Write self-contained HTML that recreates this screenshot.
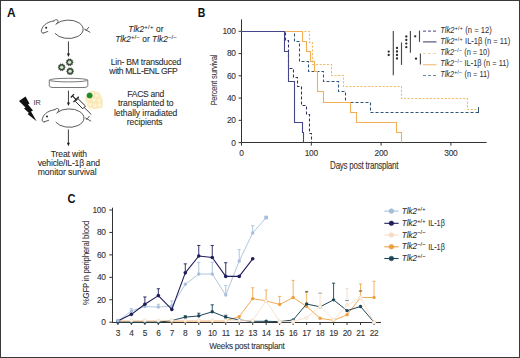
<!DOCTYPE html><html><head><meta charset="utf-8"><style>html,body{margin:0;padding:0;background:#fff;}svg{display:block}</style></head><body>
<svg width="520" height="358" viewBox="0 0 520 358">
<rect x="0" y="0" width="520" height="358" fill="#fff"/>
<rect x="0.5" y="0.5" width="519" height="357" fill="none" stroke="#3a3a3a" stroke-width="1"/>
<g font-family="'Liberation Sans', sans-serif" font-weight="bold" font-size="12.2" fill="#111">
<text x="6.9" y="16.5" textLength="8.6" lengthAdjust="spacingAndGlyphs">A</text>
<text x="197.8" y="16.6" textLength="7.6" lengthAdjust="spacingAndGlyphs">B</text>
<text x="67.6" y="203.2" textLength="8.0" lengthAdjust="spacingAndGlyphs">C</text>
</g>
<g fill="none" stroke="#5a5a5a" stroke-width="1.0" stroke-linecap="round" stroke-linejoin="round"><path d="M56.6,23.6 A14.85,9.25 0 1 1 55.2,33.6"/><path d="M54.2,20.8 C50.5,21.4 46.8,22.8 44.6,24.9 C42.6,26.8 41.4,29.3 41.3,31.3 C41.3,32.6 42.3,33.3 43.6,33.1"/><path d="M43.6,33 L47.8,31.5"/><path d="M53.8,21 C54.8,19.7 56.6,19.1 57.8,20.3 C58.6,21.3 57.4,23.2 55.9,24.4"/><path d="M84.7,29.2 L90,32.2 M88.6,27.4 L85.9,30.6"/></g><circle cx="46.2" cy="27.8" r="1.0" fill="#222"/>
<g transform="translate(0.8,88.8)"><g fill="none" stroke="#5a5a5a" stroke-width="1.0" stroke-linecap="round" stroke-linejoin="round"><path d="M56.6,23.6 A14.85,9.25 0 1 1 55.2,33.6"/><path d="M54.2,20.8 C50.5,21.4 46.8,22.8 44.6,24.9 C42.6,26.8 41.4,29.3 41.3,31.3 C41.3,32.6 42.3,33.3 43.6,33.1"/><path d="M43.6,33 L47.8,31.5"/><path d="M53.8,21 C54.8,19.7 56.6,19.1 57.8,20.3 C58.6,21.3 57.4,23.2 55.9,24.4"/><path d="M84.7,29.2 L90,32.2 M88.6,27.4 L85.9,30.6"/></g><circle cx="46.2" cy="27.8" r="1.0" fill="#222"/></g>
<line x1="68.45" y1="41.4" x2="68.45" y2="54.5" stroke="#2a2a2a" stroke-width="0.9"/><path d="M66.95,53.6 L68.45,57.0 L69.95,53.6 Z" fill="#1a1a1a"/>
<line x1="68.45" y1="90.6" x2="68.45" y2="103.5" stroke="#2a2a2a" stroke-width="0.9"/><path d="M66.95,102.6 L68.45,106.0 L69.95,102.6 Z" fill="#1a1a1a"/>
<line x1="68.4" y1="129.4" x2="68.4" y2="143.7" stroke="#2a2a2a" stroke-width="0.9"/><path d="M66.9,142.79999999999998 L68.4,146.2 L69.9,142.79999999999998 Z" fill="#1a1a1a"/>
<polygon points="73.50,62.30 72.45,63.23 72.76,64.59 71.36,64.73 70.81,66.01 69.60,65.30 68.39,66.01 67.84,64.73 66.44,64.59 66.75,63.23 65.70,62.30 66.75,61.37 66.44,60.01 67.84,59.87 68.39,58.59 69.60,59.30 70.81,58.59 71.36,59.87 72.76,60.01 72.45,61.37" fill="#3c463c" stroke="#3c463c" stroke-width="0.2"/><circle cx="69.6" cy="62.3" r="1.8" fill="#b9d8b5"/><circle cx="69.6" cy="62.3" r="0.9" fill="#e4f1e0"/>
<polygon points="65.60,67.30 64.55,68.23 64.86,69.59 63.46,69.73 62.91,71.01 61.70,70.30 60.49,71.01 59.94,69.73 58.54,69.59 58.85,68.23 57.80,67.30 58.85,66.37 58.54,65.01 59.94,64.87 60.49,63.59 61.70,64.30 62.91,63.59 63.46,64.87 64.86,65.01 64.55,66.37" fill="#3c463c" stroke="#3c463c" stroke-width="0.2"/><circle cx="61.7" cy="67.3" r="1.8" fill="#b9d8b5"/><circle cx="61.7" cy="67.3" r="0.9" fill="#e4f1e0"/>
<polygon points="74.00,71.20 72.95,72.13 73.26,73.49 71.86,73.63 71.31,74.91 70.10,74.20 68.89,74.91 68.34,73.63 66.94,73.49 67.25,72.13 66.20,71.20 67.25,70.27 66.94,68.91 68.34,68.77 68.89,67.49 70.10,68.20 71.31,67.49 71.86,68.77 73.26,68.91 72.95,70.27" fill="#3c463c" stroke="#3c463c" stroke-width="0.2"/><circle cx="70.1" cy="71.2" r="1.8" fill="#b9d8b5"/><circle cx="70.1" cy="71.2" r="0.9" fill="#e4f1e0"/>
<g fill="#fff" stroke="#555" stroke-width="0.8"><path d="M49.3,80.2 L49.3,85.8 Q49.3,87.5 53,87.5 L84,87.5 Q87.8,87.5 87.8,85.8 L87.8,80.2"/><ellipse cx="68.55" cy="80.1" rx="19.25" ry="1.8"/></g>
<polygon points="19,101 25.5,96.5 29.5,103.5 28,104.5 33,110.5 31,111.5 36.6,121.2 27.5,114 29,113 24,108.5 25.5,107.5" fill="#111"/>
<text x="33.4" y="105.4" font-family="'Liberation Sans', sans-serif" font-size="7.3" fill="#333">IR</text>
<circle cx="94" cy="100.5" r="9.5" fill="#fff6dc" opacity="0.8"/>
<g fill="#fde9b0" stroke="#f3cf7c" stroke-width="0.6" opacity="0.6">
<circle cx="92.5" cy="94" r="3.0"/>
<circle cx="97" cy="95.5" r="3.0"/>
<circle cx="89" cy="99" r="3.0"/>
<circle cx="94" cy="100" r="3.0"/>
<circle cx="99" cy="100.5" r="3.0"/>
<circle cx="90.5" cy="104.5" r="3.0"/>
<circle cx="95" cy="105.5" r="3.0"/>
<circle cx="99.5" cy="105" r="3.0"/>
</g>
<g fill="#fff8e6" opacity="0.6">
<circle cx="92.5" cy="94" r="1.4"/>
<circle cx="97" cy="95.5" r="1.4"/>
<circle cx="89" cy="99" r="1.4"/>
<circle cx="94" cy="100" r="1.4"/>
<circle cx="99" cy="100.5" r="1.4"/>
<circle cx="90.5" cy="104.5" r="1.4"/>
<circle cx="95" cy="105.5" r="1.4"/>
<circle cx="99.5" cy="105" r="1.4"/>
</g>
<circle cx="89.6" cy="95.5" r="2.8" fill="#1f8a2a" stroke="#3a9a3a" stroke-width="0.4"/>
<g transform="translate(72.4,95.8) rotate(44.70)" stroke="#1e1e1e" fill="none" stroke-linecap="butt">
<line x1="0" y1="-2.3" x2="0" y2="2.3" stroke-width="1.3"/>
<line x1="0" y1="0" x2="6" y2="0" stroke-width="1.1"/>
<line x1="5.2" y1="-3.8" x2="5.2" y2="3.8" stroke-width="1.3"/>
<rect x="6" y="-1.9" width="10.5" height="3.8" fill="#fff" stroke-width="0.9"/>
<line x1="16.5" y1="0" x2="26.59" y2="0" stroke-width="0.8"/>
</g>
<g font-family="'Liberation Sans', sans-serif" font-size="8.6" fill="#2b2b2b" stroke="#2b2b2b" stroke-width="0.08" text-anchor="middle">
<text x="145.9" y="32" font-size="8.4"><tspan font-style="italic">Tlk2</tspan><tspan dy="-3.4" font-size="6" letter-spacing="0.3">+/+</tspan><tspan dy="3.4"> or</tspan></text>
<text x="146" y="41.9" font-size="8.4"><tspan font-style="italic">Tlk2</tspan><tspan dy="-3.4" font-size="6" letter-spacing="0.1">+/−</tspan><tspan dy="3.4"> or </tspan><tspan font-style="italic">Tlk2</tspan><tspan dy="-3.4" font-size="6" letter-spacing="0.1">−/−</tspan></text>
<text x="146" y="65.2" textLength="70.6">Lin- BM transduced</text>
<text x="143.6" y="73.9" textLength="68.5">with MLL-ENL GFP</text>
<text x="145.8" y="97" textLength="37">FACS and</text>
<text x="145.7" y="106.2" textLength="55.5">transplanted to</text>
<text x="145.7" y="115.5" textLength="63.4">lethally irradiated</text>
<text x="144.7" y="124.7" textLength="35.8">recipients</text>
<text x="68.9" y="156.5" textLength="36.2">Treat with</text>
<text x="68.85" y="166.1" textLength="62.3">vehicle/IL-1β and</text>
<text x="67.15" y="175.2" textLength="58.9">monitor survival</text>
</g>
<g stroke="#333" stroke-width="1" fill="none">
<line x1="241.5" y1="19.4" x2="241.5" y2="143"/>
<line x1="241" y1="142.5" x2="486.6" y2="142.5"/>
<line x1="238.6" y1="142.60" x2="241.5" y2="142.60"/>
<line x1="238.6" y1="120.34" x2="241.5" y2="120.34"/>
<line x1="238.6" y1="98.08" x2="241.5" y2="98.08"/>
<line x1="238.6" y1="75.82" x2="241.5" y2="75.82"/>
<line x1="238.6" y1="53.56" x2="241.5" y2="53.56"/>
<line x1="238.6" y1="31.30" x2="241.5" y2="31.30"/>
<line x1="241.50" y1="142.6" x2="241.50" y2="145.6"/>
<line x1="311.30" y1="142.6" x2="311.30" y2="145.6"/>
<line x1="381.10" y1="142.6" x2="381.10" y2="145.6"/>
<line x1="450.90" y1="142.6" x2="450.90" y2="145.6"/>
</g>
<g font-family="'Liberation Sans', sans-serif" font-size="8.4" letter-spacing="-0.3" fill="#333" stroke="#333" stroke-width="0.1">
<text x="235.6" y="145.50" text-anchor="end">0</text>
<text x="235.6" y="123.24" text-anchor="end">20</text>
<text x="235.6" y="100.98" text-anchor="end">40</text>
<text x="235.6" y="78.72" text-anchor="end">60</text>
<text x="235.6" y="56.46" text-anchor="end">80</text>
<text x="235.6" y="34.20" text-anchor="end">100</text>
<text x="241.50" y="155.8" text-anchor="middle">0</text>
<text x="311.30" y="155.8" text-anchor="middle">100</text>
<text x="381.10" y="155.8" text-anchor="middle">200</text>
<text x="450.90" y="155.8" text-anchor="middle">300</text>
<text x="364.2" y="168.8" text-anchor="middle" textLength="68.2" lengthAdjust="spacingAndGlyphs" font-size="10" stroke="#333" stroke-width="0.1">Days post transplant</text>
<text transform="translate(217.3,80.2) rotate(-90)" text-anchor="middle" textLength="50.8" lengthAdjust="spacingAndGlyphs" font-size="9.9" stroke="#333" stroke-width="0.06">Percent survival</text>
</g>
<path d="M241.5,31.5 H309.5 V42.5 H312.5 V64.5 H331.5 V75.5 H343.5 V86.5 H401.5 V98.5 H467.5 V109.5 H478.5" fill="none" stroke="#f1bb6c" stroke-width="1.1" stroke-dasharray="2.2,1.5"/>
<path d="M241.5,31.5 H294.5 V41.5 H299.5 V61.5 H308.5 V71.5 H323.5 V81.5 H338.5 V91.5 H345.5 V102.5 H370.5 V112.5 H478.5" fill="none" stroke="#2e5475" stroke-width="1.1" stroke-dasharray="3,2"/>
<line x1="478.5" y1="107" x2="478.5" y2="113" stroke="#2e5475" stroke-width="1"/>
<path d="M241.5,31.5 H302.5 V41.5 H306.5 V51.5 H310.5 V61.5 H314.5 V71.5 H317.5 V91.5 H323.5 V102.5 H350.5 V112.5 H356.5 V122.5 H396.5 V132.5 H401.5 V142.5" fill="none" stroke="#f2ae55" stroke-width="1.1"/>
<path d="M241.5,31.5 H285.5 V40.5 H288.5 V68.5 H293.5 V77.5 H297.5 V86.5 H301.5 V105.5 H306.5 V114.5 H309.5 V133.5 H311.5 V142.5" fill="none" stroke="#33336a" stroke-width="1.1" stroke-dasharray="3,2"/>
<path d="M241.5,31.5 H284.5 V51.5 H288.5 V81.5 H294.5 V122.5 H302.5 V132.5 H303.5 V142.5" fill="none" stroke="#46468a" stroke-width="1.1"/>
<g stroke="#4a4a4a" stroke-width="1.15">
<line x1="393.3" y1="30.9" x2="393.3" y2="75.3"/>
<line x1="401.5" y1="42.4" x2="401.5" y2="64.9"/>
<line x1="410.4" y1="30.9" x2="410.4" y2="52.7"/>
<line x1="419.5" y1="30.6" x2="419.5" y2="41.9"/>
<line x1="420.4" y1="53.5" x2="420.4" y2="64.6"/>
</g>
<circle cx="388.7" cy="51.6" r="1.15" fill="#2a2a2a"/><circle cx="388.7" cy="55.0" r="1.15" fill="#2a2a2a"/>
<circle cx="397.0" cy="48.0" r="1.15" fill="#2a2a2a"/><circle cx="397.0" cy="51.5" r="1.15" fill="#2a2a2a"/><circle cx="397.0" cy="55.0" r="1.15" fill="#2a2a2a"/><circle cx="397.0" cy="58.5" r="1.15" fill="#2a2a2a"/>
<circle cx="406.3" cy="36.5" r="1.15" fill="#2a2a2a"/><circle cx="406.3" cy="40.0" r="1.15" fill="#2a2a2a"/><circle cx="406.3" cy="43.6" r="1.15" fill="#2a2a2a"/><circle cx="406.3" cy="47.2" r="1.15" fill="#2a2a2a"/>
<circle cx="415.2" cy="36.3" r="1.15" fill="#2a2a2a"/>
<circle cx="416.0" cy="58.7" r="1.15" fill="#2a2a2a"/>
<line x1="423" y1="31.2" x2="436.5" y2="31.2" stroke="#6a6aa0" stroke-width="1.2" stroke-dasharray="3,2"/>
<text x="440.2" y="33.1" font-family="'Liberation Sans', sans-serif" font-size="8.3" fill="#333" stroke="#333" stroke-width="0.05" textLength="51.6" lengthAdjust="spacingAndGlyphs"><tspan font-style="italic">Tlk2</tspan><tspan dy="-3.2" font-size="5.8" letter-spacing="0.3">+/+</tspan><tspan dy="3.2"> (n = 12)</tspan></text>
<line x1="423" y1="41.9" x2="436.5" y2="41.9" stroke="#555580" stroke-width="1.2"/>
<text x="440.2" y="44.3" font-family="'Liberation Sans', sans-serif" font-size="8.3" fill="#333" stroke="#333" stroke-width="0.05" textLength="70.0" lengthAdjust="spacingAndGlyphs"><tspan font-style="italic">Tlk2</tspan><tspan dy="-3.2" font-size="5.8" letter-spacing="0.3">+/+</tspan><tspan dy="3.2"> IL-1β (n = 11)</tspan></text>
<line x1="423" y1="53.5" x2="436.5" y2="53.5" stroke="#efd6a8" stroke-width="1.2" stroke-dasharray="3,2"/>
<text x="440.2" y="55.1" font-family="'Liberation Sans', sans-serif" font-size="8.3" fill="#333" stroke="#333" stroke-width="0.05" textLength="49.4" lengthAdjust="spacingAndGlyphs"><tspan font-style="italic">Tlk2</tspan><tspan dy="-3.2" font-size="5.8" letter-spacing="0.3">−/−</tspan><tspan dy="3.2"> (n = 10)</tspan></text>
<line x1="423" y1="64.7" x2="436.5" y2="64.7" stroke="#f3c283" stroke-width="1.2"/>
<text x="440.2" y="66.2" font-family="'Liberation Sans', sans-serif" font-size="8.3" fill="#333" stroke="#333" stroke-width="0.05" textLength="68.6" lengthAdjust="spacingAndGlyphs"><tspan font-style="italic">Tlk2</tspan><tspan dy="-3.2" font-size="5.8" letter-spacing="0.3">−/−</tspan><tspan dy="3.2"> IL-1β (n = 11)</tspan></text>
<line x1="423" y1="75.5" x2="436.5" y2="75.5" stroke="#6f8598" stroke-width="1.2" stroke-dasharray="3,2"/>
<text x="440.2" y="77.3" font-family="'Liberation Sans', sans-serif" font-size="8.3" fill="#333" stroke="#333" stroke-width="0.05" textLength="49.3" lengthAdjust="spacingAndGlyphs"><tspan font-style="italic">Tlk2</tspan><tspan dy="-3.2" font-size="5.8" letter-spacing="0.3">+/−</tspan><tspan dy="3.2"> (n = 11)</tspan></text>
<g stroke="#333" stroke-width="1" fill="none">
<line x1="112.5" y1="207.7" x2="112.5" y2="323"/>
<line x1="112" y1="322.5" x2="381" y2="322.5"/>
<line x1="109.3" y1="322.20" x2="112.2" y2="322.20"/>
<line x1="109.3" y1="299.76" x2="112.2" y2="299.76"/>
<line x1="109.3" y1="277.32" x2="112.2" y2="277.32"/>
<line x1="109.3" y1="254.88" x2="112.2" y2="254.88"/>
<line x1="109.3" y1="232.44" x2="112.2" y2="232.44"/>
<line x1="109.3" y1="210.00" x2="112.2" y2="210.00"/>
<line x1="117.90" y1="322.2" x2="117.90" y2="325"/>
<line x1="131.38" y1="322.2" x2="131.38" y2="325"/>
<line x1="144.86" y1="322.2" x2="144.86" y2="325"/>
<line x1="158.34" y1="322.2" x2="158.34" y2="325"/>
<line x1="171.82" y1="322.2" x2="171.82" y2="325"/>
<line x1="185.30" y1="322.2" x2="185.30" y2="325"/>
<line x1="198.78" y1="322.2" x2="198.78" y2="325"/>
<line x1="212.26" y1="322.2" x2="212.26" y2="325"/>
<line x1="225.74" y1="322.2" x2="225.74" y2="325"/>
<line x1="239.22" y1="322.2" x2="239.22" y2="325"/>
<line x1="252.70" y1="322.2" x2="252.70" y2="325"/>
<line x1="266.18" y1="322.2" x2="266.18" y2="325"/>
<line x1="279.66" y1="322.2" x2="279.66" y2="325"/>
<line x1="293.14" y1="322.2" x2="293.14" y2="325"/>
<line x1="306.62" y1="322.2" x2="306.62" y2="325"/>
<line x1="320.10" y1="322.2" x2="320.10" y2="325"/>
<line x1="333.58" y1="322.2" x2="333.58" y2="325"/>
<line x1="347.06" y1="322.2" x2="347.06" y2="325"/>
<line x1="360.54" y1="322.2" x2="360.54" y2="325"/>
<line x1="374.02" y1="322.2" x2="374.02" y2="325"/>
</g>
<g font-family="'Liberation Sans', sans-serif" font-size="8.4" letter-spacing="-0.3" fill="#333" stroke="#333" stroke-width="0.1">
<text x="105.6" y="325.10" text-anchor="end">0</text>
<text x="105.6" y="302.66" text-anchor="end">20</text>
<text x="105.6" y="280.22" text-anchor="end">40</text>
<text x="105.6" y="257.78" text-anchor="end">60</text>
<text x="105.6" y="235.34" text-anchor="end">80</text>
<text x="105.6" y="212.90" text-anchor="end">100</text>
<text x="117.90" y="335.6" text-anchor="middle">3</text>
<text x="131.38" y="335.6" text-anchor="middle">4</text>
<text x="144.86" y="335.6" text-anchor="middle">5</text>
<text x="158.34" y="335.6" text-anchor="middle">6</text>
<text x="171.82" y="335.6" text-anchor="middle">7</text>
<text x="185.30" y="335.6" text-anchor="middle">8</text>
<text x="198.78" y="335.6" text-anchor="middle">9</text>
<text x="212.26" y="335.6" text-anchor="middle">10</text>
<text x="225.74" y="335.6" text-anchor="middle">11</text>
<text x="239.22" y="335.6" text-anchor="middle">12</text>
<text x="252.70" y="335.6" text-anchor="middle">13</text>
<text x="266.18" y="335.6" text-anchor="middle">14</text>
<text x="279.66" y="335.6" text-anchor="middle">15</text>
<text x="293.14" y="335.6" text-anchor="middle">16</text>
<text x="306.62" y="335.6" text-anchor="middle">17</text>
<text x="320.10" y="335.6" text-anchor="middle">18</text>
<text x="333.58" y="335.6" text-anchor="middle">19</text>
<text x="347.06" y="335.6" text-anchor="middle">20</text>
<text x="360.54" y="335.6" text-anchor="middle">21</text>
<text x="374.02" y="335.6" text-anchor="middle">22</text>
<text x="246.9" y="348.8" text-anchor="middle" textLength="75.2" lengthAdjust="spacingAndGlyphs" font-size="9.8" stroke="#333" stroke-width="0.1">Weeks post transplant</text>
<text transform="translate(89.2,263.1) rotate(-90)" text-anchor="middle" textLength="84.4" lengthAdjust="spacingAndGlyphs" font-size="9.8" stroke="#333" stroke-width="0.06">%GFP in peripheral blood</text>
</g>
<line x1="252.70" y1="298.64" x2="252.70" y2="287.75" stroke="#eeaa55" stroke-width="0.9"/><line x1="251.10" y1="287.75" x2="254.30" y2="287.75" stroke="#eeaa55" stroke-width="0.9"/><line x1="266.18" y1="300.88" x2="266.18" y2="290.11" stroke="#eeaa55" stroke-width="0.9"/><line x1="264.58" y1="290.11" x2="267.78" y2="290.11" stroke="#eeaa55" stroke-width="0.9"/><line x1="279.66" y1="304.47" x2="279.66" y2="296.39" stroke="#eeaa55" stroke-width="0.9"/><line x1="278.06" y1="296.39" x2="281.26" y2="296.39" stroke="#eeaa55" stroke-width="0.9"/><line x1="293.14" y1="297.52" x2="293.14" y2="280.35" stroke="#eeaa55" stroke-width="0.9"/><line x1="291.54" y1="280.35" x2="294.74" y2="280.35" stroke="#eeaa55" stroke-width="0.9"/><line x1="306.62" y1="306.49" x2="306.62" y2="291.34" stroke="#eeaa55" stroke-width="0.9"/><line x1="305.02" y1="291.34" x2="308.22" y2="291.34" stroke="#eeaa55" stroke-width="0.9"/><line x1="360.54" y1="297.52" x2="360.54" y2="284.05" stroke="#eeaa55" stroke-width="0.9"/><line x1="358.94" y1="284.05" x2="362.14" y2="284.05" stroke="#eeaa55" stroke-width="0.9"/><line x1="374.02" y1="297.52" x2="374.02" y2="281.25" stroke="#eeaa55" stroke-width="0.9"/><line x1="372.42" y1="281.25" x2="375.62" y2="281.25" stroke="#eeaa55" stroke-width="0.9"/><polyline points="117.90,321.08 131.38,321.08 144.86,321.08 158.34,321.08 171.82,321.08 185.30,321.08 198.78,321.08 212.26,321.08 225.74,320.85 239.22,316.59 252.70,298.64 266.18,300.88 279.66,304.47 293.14,297.52 306.62,306.49 320.10,318.27 333.58,320.40 347.06,314.79 360.54,297.52 374.02,297.52" fill="none" stroke="#efa03f" stroke-width="0.9" stroke-linejoin="round"/><circle cx="117.90" cy="321.08" r="1.7" fill="#efa03f"/><circle cx="131.38" cy="321.08" r="1.7" fill="#efa03f"/><circle cx="144.86" cy="321.08" r="1.7" fill="#efa03f"/><circle cx="158.34" cy="321.08" r="1.7" fill="#efa03f"/><circle cx="171.82" cy="321.08" r="1.7" fill="#efa03f"/><circle cx="185.30" cy="321.08" r="1.7" fill="#efa03f"/><circle cx="198.78" cy="321.08" r="1.7" fill="#efa03f"/><circle cx="212.26" cy="321.08" r="1.7" fill="#efa03f"/><circle cx="225.74" cy="320.85" r="1.7" fill="#efa03f"/><circle cx="239.22" cy="316.59" r="1.7" fill="#efa03f"/><circle cx="252.70" cy="298.64" r="1.7" fill="#efa03f"/><circle cx="266.18" cy="300.88" r="1.7" fill="#efa03f"/><circle cx="279.66" cy="304.47" r="1.7" fill="#efa03f"/><circle cx="293.14" cy="297.52" r="1.7" fill="#efa03f"/><circle cx="306.62" cy="306.49" r="1.7" fill="#efa03f"/><circle cx="320.10" cy="318.27" r="1.7" fill="#efa03f"/><circle cx="333.58" cy="320.40" r="1.7" fill="#efa03f"/><circle cx="347.06" cy="314.79" r="1.7" fill="#efa03f"/><circle cx="360.54" cy="297.52" r="1.7" fill="#efa03f"/><circle cx="374.02" cy="297.52" r="1.7" fill="#efa03f"/>
<line x1="185.30" y1="317.15" x2="185.30" y2="315.80" stroke="#1d4558" stroke-width="0.9"/><line x1="183.70" y1="315.80" x2="186.90" y2="315.80" stroke="#1d4558" stroke-width="0.9"/><line x1="198.78" y1="315.92" x2="198.78" y2="313.22" stroke="#1d4558" stroke-width="0.9"/><line x1="197.18" y1="313.22" x2="200.38" y2="313.22" stroke="#1d4558" stroke-width="0.9"/><line x1="212.26" y1="311.77" x2="212.26" y2="304.81" stroke="#1d4558" stroke-width="0.9"/><line x1="210.66" y1="304.81" x2="213.86" y2="304.81" stroke="#1d4558" stroke-width="0.9"/><line x1="225.74" y1="317.15" x2="225.74" y2="315.24" stroke="#1d4558" stroke-width="0.9"/><line x1="224.14" y1="315.24" x2="227.34" y2="315.24" stroke="#1d4558" stroke-width="0.9"/><line x1="333.58" y1="299.87" x2="333.58" y2="283.15" stroke="#1d4558" stroke-width="0.9"/><line x1="331.98" y1="283.15" x2="335.18" y2="283.15" stroke="#1d4558" stroke-width="0.9"/><line x1="305.02" y1="291.91" x2="308.22" y2="291.91" stroke="#1d4558" stroke-width="0.9"/><line x1="318.50" y1="293.25" x2="321.70" y2="293.25" stroke="#1d4558" stroke-width="0.9"/><line x1="345.46" y1="300.43" x2="348.66" y2="300.43" stroke="#1d4558" stroke-width="0.9"/><line x1="358.94" y1="291.01" x2="362.14" y2="291.01" stroke="#1d4558" stroke-width="0.9"/><polyline points="117.90,322.20 131.38,322.20 144.86,322.20 158.34,322.20 171.82,320.52 185.30,317.15 198.78,315.92 212.26,311.77 225.74,317.15 239.22,319.96 252.70,321.30 266.18,321.30 279.66,321.64 293.14,319.96 306.62,304.02 320.10,306.83 333.58,299.87 347.06,310.64 360.54,306.49 374.02,322.20" fill="none" stroke="#1d4558" stroke-width="1.0" stroke-linejoin="round"/><circle cx="117.90" cy="322.20" r="1.7" fill="#1d4558"/><circle cx="131.38" cy="322.20" r="1.7" fill="#1d4558"/><circle cx="144.86" cy="322.20" r="1.7" fill="#1d4558"/><circle cx="158.34" cy="322.20" r="1.7" fill="#1d4558"/><circle cx="171.82" cy="320.52" r="1.7" fill="#1d4558"/><circle cx="185.30" cy="317.15" r="1.7" fill="#1d4558"/><circle cx="198.78" cy="315.92" r="1.7" fill="#1d4558"/><circle cx="212.26" cy="311.77" r="1.7" fill="#1d4558"/><circle cx="225.74" cy="317.15" r="1.7" fill="#1d4558"/><circle cx="239.22" cy="319.96" r="1.7" fill="#1d4558"/><circle cx="252.70" cy="321.30" r="1.7" fill="#1d4558"/><circle cx="266.18" cy="321.30" r="1.7" fill="#1d4558"/><circle cx="279.66" cy="321.64" r="1.7" fill="#1d4558"/><circle cx="293.14" cy="319.96" r="1.7" fill="#1d4558"/><circle cx="306.62" cy="304.02" r="1.7" fill="#1d4558"/><circle cx="320.10" cy="306.83" r="1.7" fill="#1d4558"/><circle cx="333.58" cy="299.87" r="1.7" fill="#1d4558"/><circle cx="347.06" cy="310.64" r="1.7" fill="#1d4558"/><circle cx="360.54" cy="306.49" r="1.7" fill="#1d4558"/><circle cx="374.02" cy="322.20" r="1.7" fill="#1d4558"/>
<line x1="320.10" y1="306.49" x2="320.10" y2="293.25" stroke="#f3dcc6" stroke-width="0.9"/><line x1="318.50" y1="293.25" x2="321.70" y2="293.25" stroke="#f3dcc6" stroke-width="0.9"/><line x1="347.06" y1="305.37" x2="347.06" y2="288.54" stroke="#f3dcc6" stroke-width="0.9"/><line x1="345.46" y1="288.54" x2="348.66" y2="288.54" stroke="#f3dcc6" stroke-width="0.9"/><polyline points="117.90,320.52 131.38,320.52 144.86,320.52 158.34,320.52 171.82,320.29 185.30,320.52 198.78,320.52 212.26,320.52 225.74,320.52 239.22,320.52 252.70,320.52 266.18,300.88 279.66,321.64 293.14,321.64 306.62,317.71 320.10,306.49 333.58,319.96 347.06,305.37 360.54,297.52 374.02,322.20" fill="none" stroke="#f8dcc4" stroke-width="0.8" stroke-linejoin="round"/><circle cx="117.90" cy="320.52" r="1.7" fill="#fdf3ea" stroke="#ecdcc4" stroke-width="0.6"/><circle cx="131.38" cy="320.52" r="1.7" fill="#fdf3ea" stroke="#ecdcc4" stroke-width="0.6"/><circle cx="144.86" cy="320.52" r="1.7" fill="#fdf3ea" stroke="#ecdcc4" stroke-width="0.6"/><circle cx="158.34" cy="320.52" r="1.7" fill="#fdf3ea" stroke="#ecdcc4" stroke-width="0.6"/><circle cx="171.82" cy="320.29" r="1.7" fill="#fdf3ea" stroke="#ecdcc4" stroke-width="0.6"/><circle cx="185.30" cy="320.52" r="1.7" fill="#fdf3ea" stroke="#ecdcc4" stroke-width="0.6"/><circle cx="198.78" cy="320.52" r="1.7" fill="#fdf3ea" stroke="#ecdcc4" stroke-width="0.6"/><circle cx="212.26" cy="320.52" r="1.7" fill="#fdf3ea" stroke="#ecdcc4" stroke-width="0.6"/><circle cx="225.74" cy="320.52" r="1.7" fill="#fdf3ea" stroke="#ecdcc4" stroke-width="0.6"/><circle cx="239.22" cy="320.52" r="1.7" fill="#fdf3ea" stroke="#ecdcc4" stroke-width="0.6"/><circle cx="252.70" cy="320.52" r="1.7" fill="#fdf3ea" stroke="#ecdcc4" stroke-width="0.6"/><circle cx="266.18" cy="300.88" r="1.7" fill="#fdf3ea" stroke="#ecdcc4" stroke-width="0.6"/><circle cx="279.66" cy="321.64" r="1.7" fill="#fdf3ea" stroke="#ecdcc4" stroke-width="0.6"/><circle cx="293.14" cy="321.64" r="1.7" fill="#fdf3ea" stroke="#ecdcc4" stroke-width="0.6"/><circle cx="306.62" cy="317.71" r="1.7" fill="#fdf3ea" stroke="#ecdcc4" stroke-width="0.6"/><circle cx="320.10" cy="306.49" r="1.7" fill="#fdf3ea" stroke="#ecdcc4" stroke-width="0.6"/><circle cx="333.58" cy="319.96" r="1.7" fill="#fdf3ea" stroke="#ecdcc4" stroke-width="0.6"/><circle cx="347.06" cy="305.37" r="1.7" fill="#fdf3ea" stroke="#ecdcc4" stroke-width="0.6"/><circle cx="360.54" cy="297.52" r="1.7" fill="#fdf3ea" stroke="#ecdcc4" stroke-width="0.6"/><circle cx="374.02" cy="322.20" r="1.7" fill="#fdf3ea" stroke="#ecdcc4" stroke-width="0.6"/>
<circle cx="374.02" cy="322.20" r="1.6" fill="#fdf3ea" stroke="#ecdcc4" stroke-width="0.6"/>
<circle cx="279.66" cy="321.64" r="1.6" fill="#fdf3ea" stroke="#ecdcc4" stroke-width="0.6"/>
<circle cx="293.14" cy="321.64" r="1.6" fill="#fdf3ea" stroke="#ecdcc4" stroke-width="0.6"/>
<line x1="131.38" y1="310.98" x2="131.38" y2="308.74" stroke="#a7bfdc" stroke-width="0.9"/><line x1="129.78" y1="308.74" x2="132.98" y2="308.74" stroke="#a7bfdc" stroke-width="0.9"/><line x1="158.34" y1="307.05" x2="158.34" y2="304.25" stroke="#a7bfdc" stroke-width="0.9"/><line x1="156.74" y1="304.25" x2="159.94" y2="304.25" stroke="#a7bfdc" stroke-width="0.9"/><line x1="171.82" y1="305.93" x2="171.82" y2="300.88" stroke="#a7bfdc" stroke-width="0.9"/><line x1="170.22" y1="300.88" x2="173.42" y2="300.88" stroke="#a7bfdc" stroke-width="0.9"/><line x1="198.78" y1="274.07" x2="198.78" y2="262.29" stroke="#a7bfdc" stroke-width="0.9"/><line x1="197.18" y1="262.29" x2="200.38" y2="262.29" stroke="#a7bfdc" stroke-width="0.9"/><line x1="212.26" y1="274.07" x2="212.26" y2="262.29" stroke="#a7bfdc" stroke-width="0.9"/><line x1="210.66" y1="262.29" x2="213.86" y2="262.29" stroke="#a7bfdc" stroke-width="0.9"/><line x1="225.74" y1="295.05" x2="225.74" y2="285.62" stroke="#a7bfdc" stroke-width="0.9"/><line x1="224.14" y1="285.62" x2="227.34" y2="285.62" stroke="#a7bfdc" stroke-width="0.9"/><line x1="239.22" y1="261.05" x2="239.22" y2="249.61" stroke="#a7bfdc" stroke-width="0.9"/><line x1="237.62" y1="249.61" x2="240.82" y2="249.61" stroke="#a7bfdc" stroke-width="0.9"/><line x1="252.70" y1="233.00" x2="252.70" y2="225.71" stroke="#a7bfdc" stroke-width="0.9"/><line x1="251.10" y1="225.71" x2="254.30" y2="225.71" stroke="#a7bfdc" stroke-width="0.9"/><polyline points="117.90,321.08 131.38,310.98 144.86,306.49 158.34,307.05 171.82,305.93 185.30,284.28 198.78,274.07 212.26,274.07 225.74,295.05 239.22,261.05 252.70,233.00 266.18,217.52" fill="none" stroke="#a7bfdc" stroke-width="0.9" stroke-linejoin="round"/><circle cx="117.90" cy="321.08" r="1.7" fill="#a7bfdc"/><circle cx="131.38" cy="310.98" r="1.7" fill="#a7bfdc"/><circle cx="144.86" cy="306.49" r="1.7" fill="#a7bfdc"/><circle cx="158.34" cy="307.05" r="1.7" fill="#a7bfdc"/><circle cx="171.82" cy="305.93" r="1.7" fill="#a7bfdc"/><circle cx="185.30" cy="284.28" r="1.7" fill="#a7bfdc"/><circle cx="198.78" cy="274.07" r="1.7" fill="#a7bfdc"/><circle cx="212.26" cy="274.07" r="1.7" fill="#a7bfdc"/><circle cx="225.74" cy="295.05" r="1.7" fill="#a7bfdc"/><circle cx="239.22" cy="261.05" r="1.7" fill="#a7bfdc"/><circle cx="252.70" cy="233.00" r="1.7" fill="#a7bfdc"/><circle cx="266.18" cy="217.52" r="1.7" fill="#a7bfdc"/>
<rect x="264.38" y="215.72" width="3.6" height="3.6" fill="#a7bfdc"/>
<line x1="144.86" y1="304.25" x2="144.86" y2="296.95" stroke="#1f1d5c" stroke-width="0.9"/><line x1="143.26" y1="296.95" x2="146.46" y2="296.95" stroke="#1f1d5c" stroke-width="0.9"/><line x1="158.34" y1="295.61" x2="158.34" y2="288.76" stroke="#1f1d5c" stroke-width="0.9"/><line x1="156.74" y1="288.76" x2="159.94" y2="288.76" stroke="#1f1d5c" stroke-width="0.9"/><line x1="185.30" y1="272.83" x2="185.30" y2="263.86" stroke="#1f1d5c" stroke-width="0.9"/><line x1="183.70" y1="263.86" x2="186.90" y2="263.86" stroke="#1f1d5c" stroke-width="0.9"/><line x1="198.78" y1="256.00" x2="198.78" y2="245.46" stroke="#1f1d5c" stroke-width="0.9"/><line x1="197.18" y1="245.46" x2="200.38" y2="245.46" stroke="#1f1d5c" stroke-width="0.9"/><line x1="212.26" y1="257.46" x2="212.26" y2="245.46" stroke="#1f1d5c" stroke-width="0.9"/><line x1="210.66" y1="245.46" x2="213.86" y2="245.46" stroke="#1f1d5c" stroke-width="0.9"/><line x1="225.74" y1="276.42" x2="225.74" y2="262.73" stroke="#1f1d5c" stroke-width="0.9"/><line x1="224.14" y1="262.73" x2="227.34" y2="262.73" stroke="#1f1d5c" stroke-width="0.9"/><polyline points="117.90,321.08 131.38,314.35 144.86,304.25 158.34,295.61 171.82,309.41 185.30,272.83 198.78,256.00 212.26,257.46 225.74,276.42 239.22,276.42 252.70,258.81" fill="none" stroke="#1f1d5c" stroke-width="1.1" stroke-linejoin="round"/><circle cx="117.90" cy="321.08" r="1.8" fill="#1f1d5c"/><circle cx="131.38" cy="314.35" r="1.8" fill="#1f1d5c"/><circle cx="144.86" cy="304.25" r="1.8" fill="#1f1d5c"/><circle cx="158.34" cy="295.61" r="1.8" fill="#1f1d5c"/><circle cx="171.82" cy="309.41" r="1.8" fill="#1f1d5c"/><circle cx="185.30" cy="272.83" r="1.8" fill="#1f1d5c"/><circle cx="198.78" cy="256.00" r="1.8" fill="#1f1d5c"/><circle cx="212.26" cy="257.46" r="1.8" fill="#1f1d5c"/><circle cx="225.74" cy="276.42" r="1.8" fill="#1f1d5c"/><circle cx="239.22" cy="276.42" r="1.8" fill="#1f1d5c"/><circle cx="252.70" cy="258.81" r="1.8" fill="#1f1d5c"/>
<circle cx="117.90" cy="320.52" r="1.8" fill="#a7bfdc"/>
<line x1="384.3" y1="211.1" x2="398.6" y2="211.1" stroke="#a7bfdc" stroke-width="1.1"/><circle cx="391.4" cy="211.1" r="2.3" fill="#a7bfdc" stroke="#8fa8c8" stroke-width="0.5"/>
<text x="401.7" y="213.7" font-family="'Liberation Sans', sans-serif" font-size="8.2" fill="#333" stroke="#333" stroke-width="0.1"><tspan font-style="italic">Tlk2</tspan><tspan dy="-3.2" font-size="5.6" letter-spacing="0.15">+/+</tspan></text>
<line x1="384.3" y1="223.3" x2="398.6" y2="223.3" stroke="#1f1d5c" stroke-width="1.1"/><circle cx="391.4" cy="223.3" r="2.3" fill="#1f1d5c" stroke="#1a184e" stroke-width="0.5"/>
<text x="401.7" y="225.9" font-family="'Liberation Sans', sans-serif" font-size="8.2" fill="#333" stroke="#333" stroke-width="0.1"><tspan font-style="italic">Tlk2</tspan><tspan dy="-3.2" font-size="5.6" letter-spacing="0.15">+/+</tspan></text>
<text x="428.2" y="226.0" font-family="'Liberation Sans', sans-serif" font-size="8.3" fill="#333" stroke="#333" stroke-width="0.08" textLength="16.6" lengthAdjust="spacingAndGlyphs">IL-1β</text>
<line x1="384.3" y1="235.0" x2="398.6" y2="235.0" stroke="#f8dcc4" stroke-width="1.1"/><circle cx="391.4" cy="235.0" r="2.3" fill="#f8dcc4" stroke="#ead6c0" stroke-width="0.5"/>
<text x="401.7" y="237.6" font-family="'Liberation Sans', sans-serif" font-size="8.2" fill="#333" stroke="#333" stroke-width="0.1"><tspan font-style="italic">Tlk2</tspan><tspan dy="-3.2" font-size="5.6" letter-spacing="0.15">−/−</tspan></text>
<line x1="384.3" y1="246.8" x2="398.6" y2="246.8" stroke="#efa03f" stroke-width="1.1"/><circle cx="391.4" cy="246.8" r="2.3" fill="#efa03f" stroke="#d98c30" stroke-width="0.5"/>
<text x="401.7" y="249.4" font-family="'Liberation Sans', sans-serif" font-size="8.2" fill="#333" stroke="#333" stroke-width="0.1"><tspan font-style="italic">Tlk2</tspan><tspan dy="-3.2" font-size="5.6" letter-spacing="0.15">−/−</tspan></text>
<text x="428.2" y="249.5" font-family="'Liberation Sans', sans-serif" font-size="8.3" fill="#333" stroke="#333" stroke-width="0.08" textLength="16.6" lengthAdjust="spacingAndGlyphs">IL-1β</text>
<line x1="384.3" y1="258.5" x2="398.6" y2="258.5" stroke="#1d4558" stroke-width="1.1"/><circle cx="391.4" cy="258.5" r="2.3" fill="#1d4558" stroke="#163848" stroke-width="0.5"/>
<text x="401.7" y="261.1" font-family="'Liberation Sans', sans-serif" font-size="8.2" fill="#333" stroke="#333" stroke-width="0.1"><tspan font-style="italic">Tlk2</tspan><tspan dy="-3.2" font-size="5.6" letter-spacing="0.15">+/−</tspan></text>
</svg></body></html>
